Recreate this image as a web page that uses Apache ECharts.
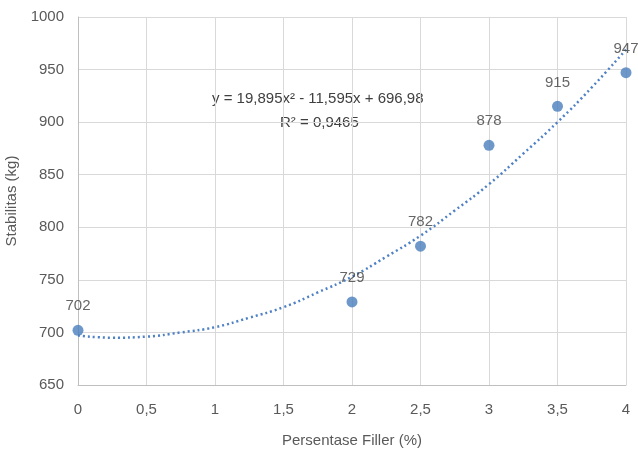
<!DOCTYPE html>
<html>
<head>
  <meta charset="UTF-8">
  <title>Stabilitas vs Persentase Filler</title>
  <style>
    html, body { margin: 0; padding: 0; background: #fff; }
    #chart { width: 638px; height: 455px; }
  </style>
  <script src="https://cdn.jsdelivr.net/npm/echarts@6/dist/echarts.min.js"></script>
</head>
<body>
<div id="chart"></div>
<script>
  // data points
  var fillerPct = [0, 2, 2.5, 3, 3.5, 4];
  var stabilitas = [702, 729, 782, 878, 915, 947];

  // polynomial trendline
  var trendX = [0, 0.25, 0.5, 0.75, 1, 1.25, 1.5, 1.75, 2, 2.25, 2.5, 2.75, 3, 3.25, 3.5, 3.75, 4];
  var trendY = [697, 695, 696, 700, 705, 714, 724, 738, 753, 772, 792, 816, 841, 870, 900, 933, 969];

  var eqText = 'y = 19,895x² - 11,595x + 696,98';
  var r2Text = 'R² = 0,9465';

  var font = "'Liberation Sans', sans-serif";
  var txtColor = '#595959';

  var chart = echarts.init(document.getElementById('chart'));

  var option = {
    animation: false,
    grid: { left: 78, right: 12, top: 17, bottom: 70, containLabel: false, outerBoundsMode: 'none' },
    xAxis: {
      type: 'value',
      min: 0, max: 4, interval: 0.5,
      name: 'Persentase Filler (%)',
      nameLocation: 'middle',
      nameGap: 48,
      nameTextStyle: { color: txtColor, fontFamily: font, fontSize: 15 },
      axisLine: { lineStyle: { color: '#bfbfbf' } },
      axisTick: { show: false },
      axisLabel: {
        color: txtColor, fontFamily: font, fontSize: 15, margin: 17,
        formatter: function (v) { return String(v).replace('.', ','); }
      },
      splitLine: { show: true, lineStyle: { color: '#d9d9d9' } }
    },
    yAxis: {
      type: 'value',
      min: 650, max: 1000, interval: 50,
      name: 'Stabilitas (kg)',
      nameLocation: 'middle',
      nameGap: 54,
      nameTextStyle: { color: txtColor, fontFamily: font, fontSize: 15 },
      axisLine: { show: true, lineStyle: { color: '#bfbfbf' } },
      axisTick: { show: false },
      axisLabel: {
        color: txtColor, fontFamily: font, fontSize: 15, margin: 14,
        formatter: function (v) { return String(v); }
      },
      splitLine: { show: true, lineStyle: { color: '#d9d9d9' } }
    },
    series: [
      {
        type: 'line',
        data: trendX.map(function (x, i) { return [x, trendY[i]]; }),
        smooth: true,
        showSymbol: false,
        symbol: 'none',
        lineStyle: { color: '#4f81c5', width: 2.5, type: [2, 3] },
        z: 2
      },
      {
        type: 'scatter',
        data: fillerPct.map(function (x, i) { return [x, stabilitas[i]]; }),
        symbolSize: 11,
        itemStyle: { color: '#4a7ebb' },
        label: {
          show: true,
          position: 'top',
          distance: 11,
          color: '#404040',
          fontFamily: font,
          fontSize: 15,
          formatter: function (p) { return p.value[1]; }
        },
        z: 3
      }
    ],
    graphic: [
      {
        type: 'text', left: 212, top: 91,
        style: { text: eqText, fill: '#404040', font: '15px ' + font }
      },
      {
        type: 'text', left: 280, top: 115,
        style: { text: r2Text, fill: '#404040', font: '15px ' + font }
      }
    ]
  };

  chart.setOption(option);
</script>
</body>
</html>
